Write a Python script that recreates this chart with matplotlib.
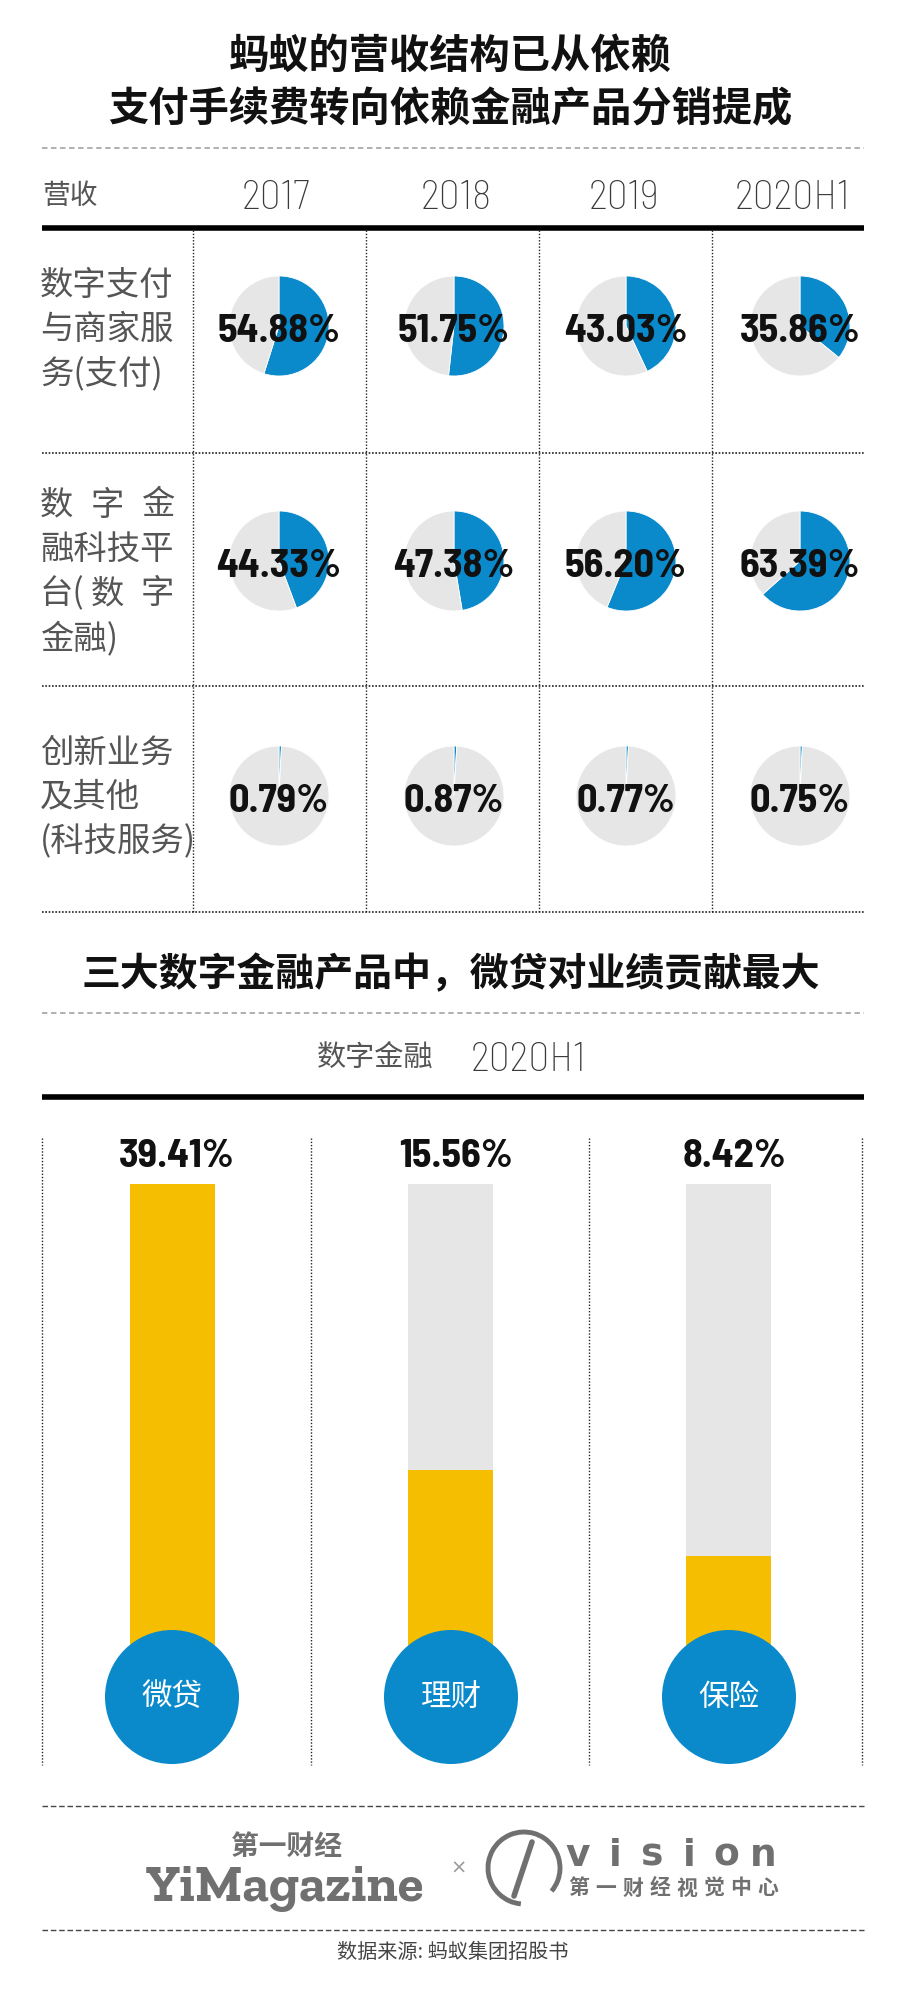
import matplotlib
matplotlib.use("Agg")
import matplotlib.pyplot as plt
from matplotlib import font_manager
from matplotlib.patches import Circle, Arc

# ---- data ----
years = ['2017', '2018', '2019', '2020H1']
seg_labels = [['数字支付', '与商家服', '务(支付)'],
              ['数 字 金', '融科技平', '台( 数 字', '金融)'],
              ['创新业务', '及其他', '(科技服务)']]
pay_share = [54.88, 51.75, 43.03, 35.86]
fin_share = [44.33, 47.38, 56.20, 63.39]
tech_share = [0.79, 0.87, 0.77, 0.75]
products = ['微贷', '理财', '保险']
product_share = [39.41, 15.56, 8.42]

title1 = ['蚂蚁的营收结构已从依赖', '支付手续费转向依赖金融产品分销提成']
title2 = '三大数字金融产品中，微贷对业绩贡献最大'
source = '数据来源: 蚂蚁集团招股书'

BLUE = '#0a89cb'
GRAY = '#e6e6e6'
YELLOW = '#f6be00'
TXT = '#555555'

W, H = 900, 1998
fig = plt.figure(figsize=(W / 100, H / 100), dpi=100)

names = {f.name for f in font_manager.fontManager.ttflist}
def pick(*cands):
    for c in cands:
        if c in names:
            return c
    return 'DejaVu Sans'

CJK = 'Noto Sans CJK SC'
NARROW = pick('Barlow Semi Condensed', 'Barlow Condensed', 'Roboto Condensed',
              'Saira Condensed', 'IBM Plex Sans Condensed', 'DejaVu Sans')
SERIF = pick('Roboto Slab', 'Zilla Slab', 'Arvo', 'DejaVu Serif')
plt.rcParams['font.family'] = [CJK, 'DejaVu Sans']

def box(x0, y0, w, h):
    return fig.add_axes([x0 / W, 1 - (y0 + h) / H, w / W, h / H])

# ---- pies (top section) ----
COL_X = [279, 454, 626, 800]
ROW_Y = [326, 561, 796]
R = 50
rows = [pay_share, fin_share, tech_share]
for r, vals in enumerate(rows):
    for c, v in enumerate(vals):
        ax = box(COL_X[c] - R, ROW_Y[r] - R, 2 * R, 2 * R)
        ax.pie([v, 100 - v], colors=[BLUE, GRAY], startangle=90,
               counterclock=False, radius=1,
               wedgeprops=dict(linewidth=0.6, edgecolor='white'))
        ax.set_xlim(-1, 1)
        ax.set_ylim(-1, 1)

# ---- bars (bottom section) ----
bax = box(42, 1184, 822, 473)
track = [max(product_share)] * len(products)
xs = range(len(products))
bax.bar(xs, track, width=0.305, color=GRAY, linewidth=0)
bax.bar(xs, product_share, width=0.305, color=YELLOW, linewidth=0)
bax.set_xlim(-0.467, 2.485)
bax.set_ylim(0, max(product_share))
bax.axis('off')

# ---- overlay: lines, text, circles ----
ov = fig.add_axes([0, 0, 1, 1])
ov.set_xlim(0, W)
ov.set_ylim(H, 0)
ov.axis('off')
ov.set_zorder(10)

dot = (0, (1, 1.3))
# title
for i, t in enumerate(title1):
    ov.text(450, 56 + i * 54, t, ha='center', va='center', fontsize=29,
            fontweight='bold', color='#111111')
ov.plot([42, 864], [148, 148], color='#aaaaaa', lw=1.3, ls=(0, (3, 2)))

# header
ov.text(42, 196, '营收', ha='left', va='center', fontsize=20, color=TXT)
YEAR_X = [276, 456, 624, 792]
for x, y in zip(YEAR_X, years):
    ov.text(x, 209, y, ha='center', va='baseline', fontsize=30, color='#3a3a3a',
            family=NARROW, fontweight='light')
ov.plot([42, 864], [228, 228], color='black', lw=4, solid_capstyle='butt')

for x in [193, 366, 539, 712]:
    ov.plot([x, x], [230, 912], color='#222222', lw=1, ls=dot)
for y in [453, 686, 912]:
    ov.plot([42, 864], [y, y], color='#222222', lw=1.2, ls=(0, (1, 1)))

# row labels
LINE_Y0 = [285, 505, 753]
def label_line(text, x0, x1, y):
    if ' ' in text:
        toks = text.split(' ')
        n = len(toks)
        for k, tk in enumerate(toks):
            if k == 0:
                ov.text(x0, y, tk, ha='left', va='center', fontsize=24, color=TXT)
            elif k == n - 1:
                ov.text(x1, y, tk, ha='right', va='center', fontsize=24, color=TXT)
            else:
                ov.text(x0 + (x1 - x0) * k / (n - 1), y, tk, ha='center',
                        va='center', fontsize=24, color=TXT)
    else:
        ov.text(x0, y, text, ha='left', va='center', fontsize=24, color=TXT)

for r, lines in enumerate(seg_labels):
    for k, ln in enumerate(lines):
        label_line(ln, 40, 174, LINE_Y0[r] + k * 44.5)

# pie labels
for r, vals in enumerate(rows):
    for c, v in enumerate(vals):
        ov.text(COL_X[c], ROW_Y[r] + 16, f'{v:.2f}%', ha='center', va='baseline',
                fontsize=29, fontweight='bold', color='#111111', family=NARROW)

# second title
ov.text(451, 975, title2, ha='center', va='center', fontsize=28,
        fontweight='bold', color='#111111')
ov.plot([42, 864], [1013, 1013], color='#aaaaaa', lw=1.3, ls=(0, (3, 2)))
ov.text(375, 1058, '数字金融', ha='center', va='center', fontsize=21, color=TXT)
ov.text(528, 1071, '2020H1', ha='center', va='baseline', fontsize=30,
        color='#3a3a3a', family=NARROW, fontweight='light')
ov.plot([42, 864], [1097, 1097], color='black', lw=4, solid_capstyle='butt')

for x in [42, 311, 589, 862]:
    ov.plot([x, x], [1138, 1765], color='#222222', lw=1, ls=dot)

BAR_X = [172, 451, 729]
for x, v, name in zip(BAR_X, product_share, products):
    ov.text(x + 5, 1167, f'{v:.2f}%', ha='center', va='baseline', fontsize=29,
            fontweight='bold', color='#111111', family=NARROW)
    ov.add_patch(Circle((x, 1697), 67, color=BLUE, lw=0))
    ov.text(x, 1697, name, ha='center', va='center', fontsize=22, color='white')

# footer
ov.plot([42, 864], [1806, 1806], color='#444444', lw=1, ls=(0, (4, 2)))
ov.plot([42, 864], [1930, 1930], color='#444444', lw=1, ls=(0, (4, 2)))
LOGO = '#707070'
ov.text(287, 1847, '第一财经', ha='center', va='center', fontsize=20,
        fontweight='bold', color=LOGO)
ov.text(285, 1901, 'YiMagazine', ha='center', va='baseline', fontsize=38,
        fontweight='heavy', color=LOGO, family=SERIF)
ov.text(459, 1868, '×', ha='center', va='center', fontsize=14, color='#999999',
        family='DejaVu Sans')
ov.add_patch(Arc((524, 1868), 72, 72, theta1=95, theta2=400, color=LOGO, lw=3.5))
ov.plot([532, 514], [1842, 1896], color=LOGO, lw=4, solid_capstyle='round')
for k, ch in enumerate('vision'):
    ov.text(578 + k * 37, 1866, ch, ha='center', va='baseline', fontsize=27,
            fontweight='bold', color=LOGO, family='DejaVu Sans')
for k, ch in enumerate('第一财经视觉中心'):
    ov.text(579 + k * 27, 1888, ch, ha='center', va='center', fontsize=15,
            fontweight='bold', color=LOGO)
ov.text(453, 1953, source, ha='center', va='center', fontsize=14.5, color='#444444')

fig.savefig('out.png', dpi=100, facecolor='white')
